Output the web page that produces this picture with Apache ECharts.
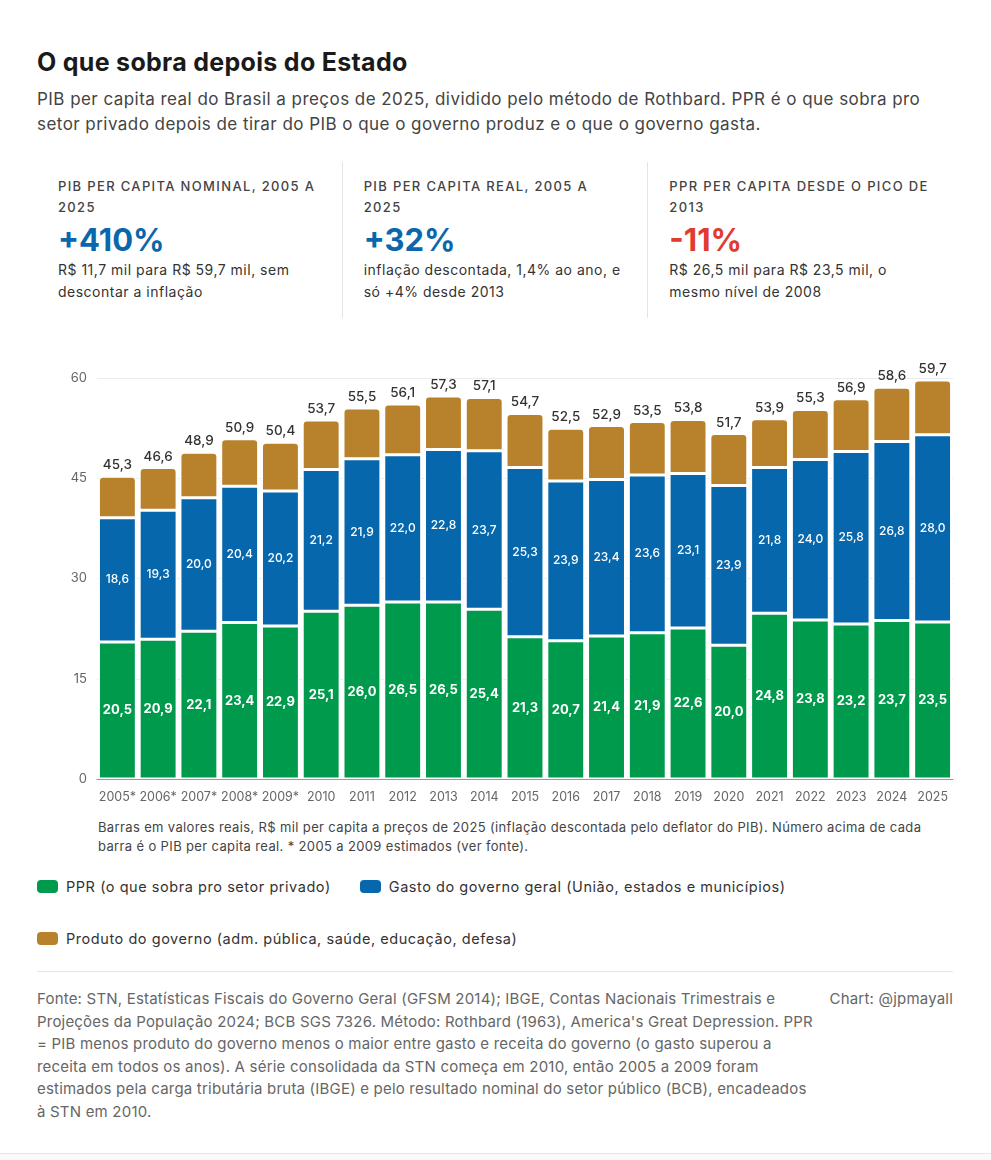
<!DOCTYPE html>
<html>
<head>
<meta charset="utf-8">
<script src="https://cdn.jsdelivr.net/npm/echarts@6/dist/echarts.min.js"></script>
<style>
  body { margin: 0; background: #fff; font-family: Inter, "Noto Sans", sans-serif; color: #222; }
  .wrap { padding: 0 38px 0 37px; }
  h1 { margin: 0; padding-top: 46px; font-size: 25px; font-weight: 700; letter-spacing: 0.3px; color: #1a1a1a; line-height: 32px; }
  .sub { margin-top: 9px; font-size: 17px; letter-spacing: 0.45px; line-height: 25px; color: #444; }
  .kpis { display: flex; margin-top: 25px; height: 156px; }
  .kpi { flex: 1; padding: 14px 20px 0 21px; }
  .kpi + .kpi { border-left: 1px solid #e4e4e4; }
  .kpi .lab { font-size: 13px; font-weight: 500; letter-spacing: 1.35px; color: #444; line-height: 21px; text-transform: uppercase; }
  .kpi .big { font-size: 31px; font-weight: 700; line-height: 38px; margin-top: 3px; }
  .kpi .desc { font-size: 14px; letter-spacing: 0.5px; line-height: 22px; color: #333; margin-top: 0; }
  #chart { width: 991px; height: 470px; margin-top: 23px; }
  .note { margin-left: 98px; width: 860px; font-size: 13px; letter-spacing: 0.36px; line-height: 19px; color: #444; margin-top: 7px; }
  .legend { padding: 0 37px; margin-top: 20px; }
  .lrow { height: 52px; display: flex; align-items: flex-start; }
  .lrow:last-child { height: 43px; }
  .li { display: flex; align-items: center; font-size: 14.5px; letter-spacing: 0.55px; color: #333; margin-right: 29px; height: 20px; }
  .sw { width: 21px; height: 13px; border-radius: 4px; margin-right: 8px; }
  .foot { margin: 0 38px 0 37px; border-top: 1px solid #e6e6e6; display: flex; justify-content: space-between; padding-top: 16px; font-size: 15px; letter-spacing: 0.2px; line-height: 22.5px; color: #666; }
  .foot .src { width: 781px; }
  .bottom { position: absolute; top: 1153px; left: 0; width: 991px; height: 7px; border-top: 1px solid #e6e6e6; background: #fafafa; }
</style>
</head>
<body>
<div class="wrap">
  <h1>O que sobra depois do Estado</h1>
  <div class="sub">PIB per capita real do Brasil a preços de 2025, dividido pelo método de Rothbard. PPR é o que sobra pro setor privado depois de tirar do PIB o que o governo produz e o que o governo gasta.</div>
  <div class="kpis">
    <div class="kpi">
      <div class="lab">PIB per capita nominal, 2005 a 2025</div>
      <div class="big" style="color:#0b67ac">+410%</div>
      <div class="desc">R$ 11,7 mil para R$ 59,7 mil, sem descontar a inflação</div>
    </div>
    <div class="kpi">
      <div class="lab">PIB per capita real, 2005 a 2025</div>
      <div class="big" style="color:#0b67ac">+32%</div>
      <div class="desc">inflação descontada, 1,4% ao ano, e só +4% desde 2013</div>
    </div>
    <div class="kpi">
      <div class="lab">PPR per capita desde o pico de 2013</div>
      <div class="big" style="color:#e03b2f">-11%</div>
      <div class="desc">R$ 26,5 mil para R$ 23,5 mil, o mesmo nível de 2008</div>
    </div>
  </div>
</div>
<div id="chart"></div>
<div class="note">Barras em valores reais, R$ mil per capita a preços de 2025 (inflação descontada pelo deflator do PIB). Número acima de cada barra é o PIB per capita real. * 2005 a 2009 estimados (ver fonte).</div>
<div class="legend" id="legend"></div>
<div class="foot">
  <div class="src">Fonte: STN, Estatísticas Fiscais do Governo Geral (GFSM 2014); IBGE, Contas Nacionais Trimestrais e Projeções da População 2024; BCB SGS 7326. Método: Rothbard (1963), America's Great Depression. PPR = PIB menos produto do governo menos o maior entre gasto e receita do governo (o gasto superou a receita em todos os anos). A série consolidada da STN começa em 2010, então 2005 a 2009 foram estimados pela carga tributária bruta (IBGE) e pelo resultado nominal do setor público (BCB), encadeados à STN em 2010.</div>
  <div>Chart: @jpmayall</div>
</div>
<div class="bottom"></div>
<script>
var years = ['2005*', '2006*', '2007*', '2008*', '2009*', '2010', '2011', '2012', '2013', '2014', '2015',
  '2016', '2017', '2018', '2019', '2020', '2021', '2022', '2023', '2024', '2025'];
var ppr = [20.5, 20.9, 22.1, 23.4, 22.9, 25.1, 26.0, 26.5, 26.5, 25.4, 21.3, 20.7, 21.4, 21.9, 22.6, 20.0, 24.8, 23.8, 23.2, 23.7, 23.5];
var gasto = [18.6, 19.3, 20.0, 20.4, 20.2, 21.2, 21.9, 22.0, 22.8, 23.7, 25.3, 23.9, 23.4, 23.6, 23.1, 23.9, 21.8, 24.0, 25.8, 26.8, 28.0];
var produto = [6.2, 6.4, 6.8, 7.1, 7.3, 7.4, 7.6, 7.6, 8.0, 8.0, 8.1, 7.9, 8.1, 8.0, 8.1, 7.8, 7.3, 7.5, 7.9, 8.1, 8.2];
var pibReal = [45.3, 46.6, 48.9, 50.9, 50.4, 53.7, 55.5, 56.1, 57.3, 57.1, 54.7, 52.5, 52.9, 53.5, 53.8, 51.7, 53.9, 55.3, 56.9, 58.6, 59.7];
var yTicks = { min: 0, max: 60, step: 15 };

var names = ['PPR (o que sobra pro setor privado)', 'Gasto do governo geral (União, estados e municípios)', 'Produto do governo (adm. pública, saúde, educação, defesa)'];
var colors = ['#009a4c', '#0667ad', '#b8812b'];

function br(v) { return v.toFixed(1).replace('.', ','); }

// legenda em html, duas linhas como no original
var rows = [[0, 1], [2]];
var lg = document.getElementById('legend');
rows.forEach(function (r) {
  var row = document.createElement('div');
  row.className = 'lrow';
  r.forEach(function (i) {
    row.innerHTML += '<div class="li"><span class="sw" style="background:' + colors[i] + '"></span>' + names[i] + '</div>';
  });
  lg.appendChild(row);
});

var font = 'Inter, "Noto Sans", sans-serif';
var base = {
  type: 'bar',
  stack: 'pib',
  barCategoryGap: '7%'
};

var myChart = echarts.init(document.getElementById('chart'));
myChart.setOption({
  animation: false,
  textStyle: { fontFamily: font },
  grid: { left: 97, right: 38, top: 37, bottom: 32 },
  xAxis: {
    type: 'category',
    data: years,
    axisTick: { show: false },
    axisLine: { lineStyle: { color: '#999' } },
    axisLabel: { color: '#666', fontSize: 12.5, margin: 12, interval: 0, fontFamily: font }
  },
  yAxis: {
    type: 'value',
    min: yTicks.min,
    max: yTicks.max,
    interval: yTicks.step,
    axisLabel: { color: '#666', fontSize: 13, margin: 10, fontFamily: font },
    splitLine: { lineStyle: { color: '#e8ecee' } }
  },
  series: [
    Object.assign({}, base, {
      name: names[0],
      data: ppr,
      itemStyle: { color: colors[0], borderColor: '#fff', borderWidth: 1.5 },
      label: { show: true, position: 'inside', color: '#fff', fontSize: 13, fontWeight: 700, fontFamily: font,
        formatter: function (p) { return br(p.value); } }
    }),
    Object.assign({}, base, {
      name: names[1],
      data: gasto,
      itemStyle: { color: colors[1], borderColor: '#fff', borderWidth: 1.5 },
      label: { show: true, position: 'inside', color: '#fff', fontSize: 12, fontWeight: 500, fontFamily: font,
        formatter: function (p) { return br(p.value); } }
    }),
    Object.assign({}, base, {
      name: names[2],
      data: produto,
      itemStyle: { color: colors[2], borderColor: '#fff', borderWidth: 1.5, borderRadius: [4, 4, 0, 0] },
      label: { show: true, position: 'top', distance: 4, color: '#333', fontSize: 13.5, fontWeight: 500, fontFamily: font,
        formatter: function (p) { return br(pibReal[p.dataIndex]); } }
    })
  ]
});
</script>
</body>
</html>
